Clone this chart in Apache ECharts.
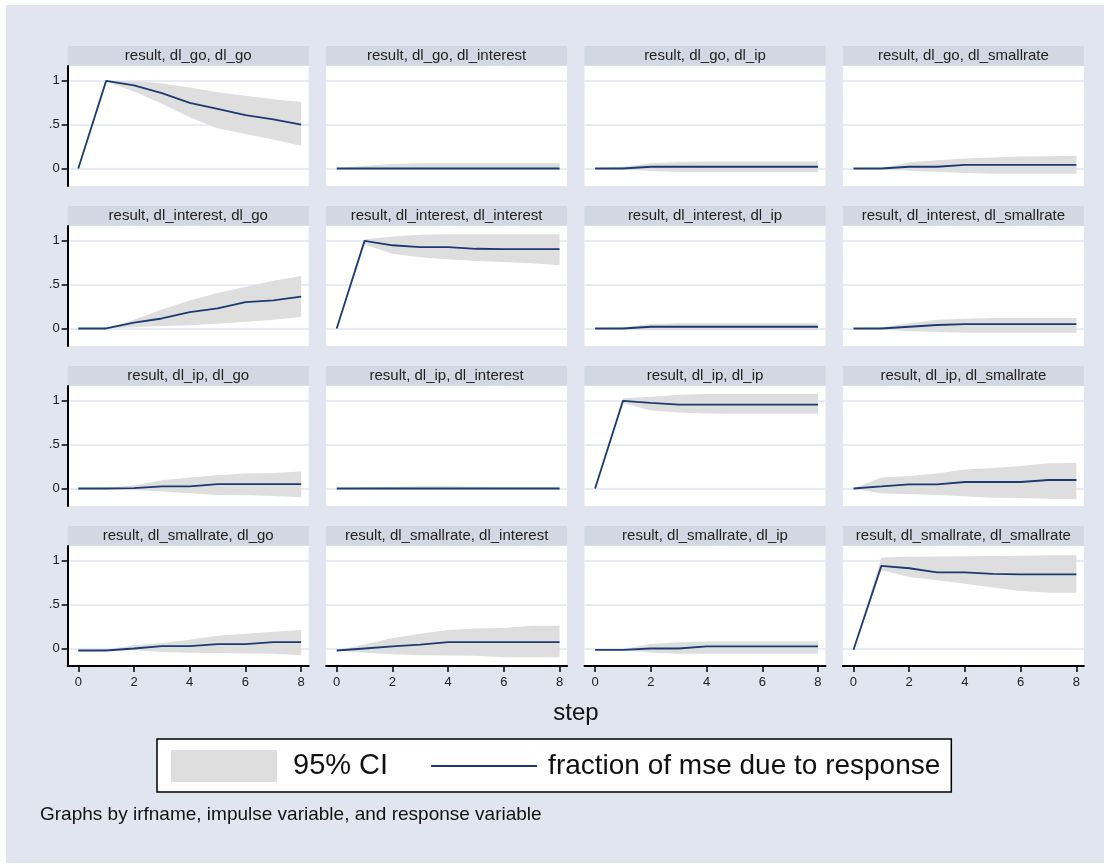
<!DOCTYPE html>
<html><head><meta charset="utf-8">
<script src="https://cdn.jsdelivr.net/npm/echarts@6/dist/echarts.min.js"></script>
<style>
html,body{margin:0;padding:0;background:#fff;}
#bg{position:absolute;left:6px;top:5px;width:1098px;height:858px;background:#e1e5ef;}
#chart{position:absolute;left:0;top:0;width:1110px;height:864px;}
</style></head><body>
<div id="bg"></div><div id="chart"></div>
<script>
const steps = [0, 1, 2, 3, 4, 5, 6, 7, 8];
const impulseVars = ['dl_go', 'dl_interest', 'dl_ip', 'dl_smallrate'];
const responseVars = ['dl_go', 'dl_interest', 'dl_ip', 'dl_smallrate'];
const xTickValues = [0, 2, 4, 6, 8];
const yTickValues = [0, 0.5, 1];
const yTickLabels = ['0', '.5', '1'];
const legendLabels = ['95% CI', 'fraction of mse due to response'];
const xAxisTitle = 'step';
const noteText = 'Graphs by irfname, impulse variable, and response variable';

// FEVD point estimates, one row per panel (impulse, response), reading order
const fevd = [
  [0, 1.0, 0.95, 0.86, 0.75, 0.68, 0.61, 0.56, 0.50],          // go, go
  [0, 0, 0, 0, 0, 0, 0, 0, 0],                                  // go, interest
  [0, 0, 0.02, 0.02, 0.02, 0.02, 0.02, 0.02, 0.02],             // go, ip
  [0, 0, 0.02, 0.02, 0.042, 0.042, 0.042, 0.042, 0.042],        // go, smallrate
  [0, 0, 0.068, 0.114, 0.186, 0.23, 0.30, 0.32, 0.364],         // interest, go
  [0, 1.0, 0.95, 0.928, 0.928, 0.91, 0.905, 0.905, 0.905],      // interest, interest
  [0, 0, 0.02, 0.02, 0.02, 0.02, 0.02, 0.02, 0.02],             // interest, ip
  [0, 0, 0.02, 0.04, 0.05, 0.05, 0.05, 0.05, 0.05],             // interest, smallrate
  [0, 0, 0.003, 0.023, 0.023, 0.05, 0.05, 0.05, 0.05],          // ip, go
  [0, 0, 0, 0, 0, 0, 0, 0, 0],                                  // ip, interest
  [0, 1.0, 0.977, 0.957, 0.957, 0.957, 0.957, 0.957, 0.957],    // ip, ip
  [0, 0.023, 0.047, 0.047, 0.074, 0.074, 0.074, 0.097, 0.097],  // ip, smallrate
  [-0.023, -0.023, 0, 0.027, 0.027, 0.05, 0.05, 0.072, 0.072],  // smallrate, go
  [-0.023, 0, 0.023, 0.045, 0.072, 0.072, 0.072, 0.072, 0.072], // smallrate, interest
  [-0.015, -0.015, 0, 0, 0.023, 0.023, 0.023, 0.023, 0.023],    // smallrate, ip
  [-0.015, 0.943, 0.916, 0.87, 0.87, 0.851, 0.847, 0.847, 0.847] // smallrate, smallrate
];
// lower bound of the 95% CI
const ciLower = [
  [0, 0.99, 0.88, 0.74, 0.585, 0.46, 0.395, 0.33, 0.26],
  [0, -0.01, -0.01, -0.012, -0.012, -0.012, -0.012, -0.012, -0.012],
  [0, -0.01, -0.03, -0.04, -0.04, -0.04, -0.04, -0.04, -0.04],
  [0, -0.008, -0.027, -0.038, -0.053, -0.06, -0.06, -0.06, -0.06],
  [0, 0, 0.015, 0.027, 0.038, 0.053, 0.076, 0.10, 0.13],
  [0, 0.955, 0.852, 0.814, 0.79, 0.77, 0.76, 0.746, 0.723],
  [0, -0.01, -0.02, -0.02, -0.02, -0.02, -0.02, -0.02, -0.02],
  [0, -0.01, -0.03, -0.04, -0.05, -0.05, -0.05, -0.05, -0.05],
  [0, -0.003, -0.015, -0.035, -0.054, -0.074, -0.078, -0.085, -0.10],
  [0, -0.005, -0.01, -0.008, -0.005, -0.005, -0.003, -0.003, -0.003],
  [0, 0.977, 0.89, 0.868, 0.857, 0.853, 0.853, 0.853, 0.853],
  [0, -0.058, -0.062, -0.074, -0.09, -0.105, -0.11, -0.116, -0.124],
  [-0.023, -0.025, -0.02, -0.04, -0.05, -0.053, -0.057, -0.06, -0.076],
  [-0.023, -0.05, -0.065, -0.076, -0.08, -0.083, -0.10, -0.10, -0.10],
  [-0.015, -0.016, -0.05, -0.06, -0.06, -0.06, -0.06, -0.06, -0.06],
  [-0.015, 0.893, 0.817, 0.78, 0.74, 0.695, 0.656, 0.637, 0.637]
];
// upper bound of the 95% CI
const ciUpper = [
  [0, 1.0, 1.0, 0.97, 0.925, 0.87, 0.83, 0.79, 0.76],
  [0, 0.03, 0.05, 0.06, 0.06, 0.06, 0.06, 0.06, 0.06],
  [0, 0.02, 0.06, 0.075, 0.08, 0.08, 0.08, 0.08, 0.08],
  [0, 0.004, 0.07, 0.095, 0.114, 0.125, 0.137, 0.14, 0.145],
  [0, 0.003, 0.10, 0.216, 0.32, 0.405, 0.473, 0.545, 0.60],
  [0, 1.02, 1.05, 1.07, 1.075, 1.075, 1.075, 1.075, 1.075],
  [0, 0.01, 0.05, 0.06, 0.06, 0.06, 0.06, 0.06, 0.06],
  [0, 0.01, 0.06, 0.10, 0.11, 0.12, 0.12, 0.12, 0.12],
  [0, 0.008, 0.035, 0.093, 0.124, 0.15, 0.17, 0.178, 0.194],
  [0, 0.01, 0.02, 0.025, 0.025, 0.02, 0.015, 0.01, 0.01],
  [0, 1.03, 1.047, 1.07, 1.078, 1.078, 1.078, 1.078, 1.078],
  [0, 0.124, 0.143, 0.17, 0.217, 0.233, 0.256, 0.287, 0.29],
  [-0.023, -0.015, 0.038, 0.064, 0.10, 0.144, 0.167, 0.19, 0.21],
  [-0.023, 0.045, 0.12, 0.167, 0.21, 0.227, 0.235, 0.26, 0.26],
  [-0.015, -0.01, 0.05, 0.07, 0.08, 0.08, 0.08, 0.08, 0.08],
  [-0.015, 1.04, 1.046, 1.05, 1.053, 1.057, 1.06, 1.063, 1.065]
];

const FONT = '"Liberation Sans", Arial, Helvetica, sans-serif';
const LINE_COLOR = '#1b3b71';
const BAND_COLOR = '#dedede';
const colLeft = c => 67.7 + 258.4 * c;
const rowTop = r => 66 + 160 * r;
const PW = 241, PH = 120;

const grids = [], xAxes = [], yAxes = [], series = [], graphics = [];
for (let r = 0; r < 4; r++) {
  for (let c = 0; c < 4; c++) {
    const k = r * 4 + c;
    grids.push({left: colLeft(c), top: rowTop(r), width: PW, height: PH, show: true,
      backgroundColor: '#fff', borderWidth: 0, outerBoundsMode: 'none'});
    const bottom = r === 3, left = c === 0;
    xAxes.push({gridIndex: k, type: 'value', min: -0.38, max: 8.27,
      axisLine: {show: bottom, onZero: false, lineStyle: {color: '#000', width: 2}},
      axisTick: {show: bottom, length: 6, customValues: xTickValues, lineStyle: {color: '#000', width: 1.5}},
      axisLabel: {show: bottom, customValues: xTickValues, margin: 10, fontSize: 13, color: '#222', fontFamily: FONT},
      splitLine: {show: false}});
    yAxes.push({gridIndex: k, type: 'value', min: -0.2, max: 1.17,
      axisLine: {show: left, onZero: false, lineStyle: {color: '#000', width: 2}},
      axisTick: {show: left, length: 6, customValues: yTickValues, lineStyle: {color: '#000', width: 1.5}},
      axisLabel: {show: left, customValues: yTickValues, margin: 8, fontSize: 13, color: '#222', fontFamily: FONT,
        formatter: v => yTickLabels[yTickValues.indexOf(v)]},
      splitLine: {show: true, lineStyle: {color: '#e1e5ef', width: 1.5}}});
    series.push({type: 'custom', name: legendLabels[0], xAxisIndex: k, yAxisIndex: k, silent: true, clip: true, z: 2,
      itemStyle: {color: BAND_COLOR},
      data: [[steps[0], ciLower[k][0]]],
      renderItem: (params, api) => {
        const pts = [];
        for (let i = 0; i < steps.length; i++) pts.push(api.coord([steps[i], ciUpper[k][i]]));
        for (let i = steps.length - 1; i >= 0; i--) pts.push(api.coord([steps[i], ciLower[k][i]]));
        return {type: 'polygon', shape: {points: pts}, style: {fill: BAND_COLOR}};
      }});
    series.push({type: 'line', name: legendLabels[1], xAxisIndex: k, yAxisIndex: k, silent: true, z: 3,
      data: steps.map((s, i) => [s, fevd[k][i]]), symbol: 'none',
      lineStyle: {color: LINE_COLOR, width: 1.8}, itemStyle: {color: LINE_COLOR}});
    graphics.push({type: 'rect', shape: {x: colLeft(c), y: rowTop(r) - 20, width: PW, height: 19.5},
      style: {fill: '#d2d8e3'}, silent: true});
    graphics.push({type: 'text', x: colLeft(c) + PW / 2, y: rowTop(r) - 10, silent: true,
      style: {text: 'result, ' + impulseVars[r] + ', ' + responseVars[c], fill: '#222',
        font: '15px ' + FONT, align: 'center', verticalAlign: 'middle'}});
  }
}
graphics.push({type: 'text', x: 576, y: 713, silent: true,
  style: {text: xAxisTitle, fill: '#111', font: '24px ' + FONT, align: 'center', verticalAlign: 'middle'}});

const chart = echarts.init(document.getElementById('chart'), null, {renderer: 'canvas'});
chart.setOption({
  animation: false,
  backgroundColor: 'transparent',
  title: {text: noteText, left: 40, top: 805, padding: 0,
    textStyle: {fontSize: 19, fontWeight: 'normal', color: '#111', fontFamily: FONT}},
  legend: {left: 157, top: 739, orient: 'horizontal', selectedMode: false,
    data: [
      {name: legendLabels[0], icon: 'rect'},
      {name: legendLabels[1], itemStyle: {opacity: 0, borderWidth: 0},
        textStyle: {fontSize: 28, color: '#111', fontFamily: FONT, padding: [0, 0, 0, 6]}}
    ],
    itemWidth: 106, itemHeight: 32, itemGap: 42, padding: [11, 11, 10, 14],
    backgroundColor: '#fff', borderColor: '#000', borderWidth: 1.5, borderRadius: 0,
    textStyle: {fontSize: 29, color: '#111', fontFamily: FONT, padding: [0, 0, 0, 11]}},
  grid: grids, xAxis: xAxes, yAxis: yAxes, series: series,
  graphic: {elements: graphics}
});
</script>
</body></html>
